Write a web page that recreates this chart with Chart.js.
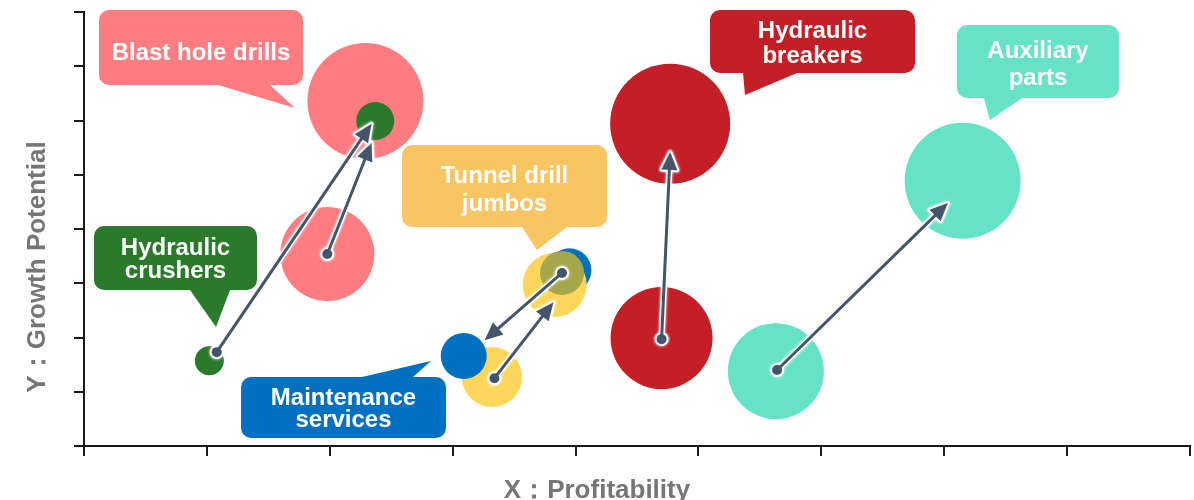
<!DOCTYPE html>
<html>
<head>
<meta charset="utf-8">
<script src="https://cdn.jsdelivr.net/npm/chart.js@4.4.1/dist/chart.umd.min.js"></script>
<style>
  html, body { margin: 0; padding: 0; background: #fff; }
  #wrap { width: 1194px; height: 500px; position: relative; }
</style>
</head>
<body>
<div id="wrap"><canvas id="c"></canvas></div>
<script>
// Business lines: previous and current position (profitability x, growth y), bubble radius in px
const categories = ['Blast hole drills', 'Hydraulic crushers', 'Tunnel drill jumbos',
                    'Maintenance services', 'Hydraulic breakers', 'Auxiliary parts'];
const prevX = [1.98, 1.02, 3.32, 3.95, 4.70, 5.63];
const prevY = [3.54, 1.57, 1.27, 3.24, 1.99, 1.38];
const prevR = [47, 14.5, 30, 22, 51, 48];
const currX = [2.29, 2.37, 3.83, 3.09, 4.77, 7.15];
const currY = [6.36, 5.99, 2.97, 1.66, 5.94, 4.89];
const currR = [58, 19, 32, 23, 60, 58];

// Overlap marker where the maintenance bubble sits under the jumbos bubble
const overlapX = [3.89];
const overlapY = [3.19];
const overlapR = [22];

// Movement arrows (start dot -> arrow head), in axis units
const arrowFromX = [1.98, 1.08, 3.34, 3.89, 4.70, 5.64];
const arrowFromY = [3.54, 1.73, 1.25, 3.19, 1.97, 1.40];
const arrowToX   = [2.34, 2.34, 3.82, 3.26, 4.77, 7.03];
const arrowToY   = [5.59, 5.94, 2.65, 1.95, 5.42, 4.48];

// Axis ranges
const xTicks = [0, 1, 2, 3, 4, 5, 6, 7, 8, 9];
const yTicks = [0, 1, 2, 3, 4, 5, 6, 7, 8];
const xTitle = 'X：Profitability';
const yTitle = 'Y：Growth Potential';

// Styling
const bubbleColors  = ['#FF7C80', '#2B7A2B', '#FFD65A', '#0070C0', '#C41E26', '#66E2C6'];
const calloutColors = ['#FF7C80', '#2B7A2B', '#F8C562', '#0070C0', '#C41E26', '#66E2C6'];
const overlapColor = '#A6A64A';
const arrowColor = '#44546A';
const labelFont = 'bold 24px "Liberation Sans", Arial, sans-serif';
const titleFont = 'bold 26px "Liberation Sans", Arial, sans-serif';

// Callout boxes (px, relative to the plot area's top-left corner);
// textY is the first line's baseline, lh the line spacing
const callouts = [
  { box: [15, -2, 204, 75],  edge: 'bottom', base: [134, 186], tip: [211, 96],  textY: 48,  lh: 0,  lines: ['Blast hole drills'] },
  { box: [10, 214, 163, 64], edge: 'bottom', base: [106, 146], tip: [132, 315], textY: 243, lh: 23, lines: ['Hydraulic', 'crushers'] },
  { box: [318, 133, 205, 82], edge: 'bottom', base: [438, 483], tip: [453, 238], textY: 171, lh: 28, lines: ['Tunnel drill', 'jumbos'] },
  { box: [157, 365, 205, 61], edge: 'top',    base: [278, 329], tip: [347, 349], textY: 393, lh: 22, lines: ['Maintenance', 'services'] },
  { box: [626, -2, 205, 63],  edge: 'bottom', base: [659, 713], tip: [661, 83],  textY: 26,  lh: 25, lines: ['Hydraulic', 'breakers'] },
  { box: [873, 13, 162, 73],  edge: 'bottom', base: [900, 938], tip: [906, 108], textY: 46,  lh: 27, lines: ['Auxiliary', 'parts'] }
];

// Stacking of bubbles from bottom to top
const layers = [
  ['prev', 0], ['curr', 0], ['prev', 1], ['curr', 1],
  ['prev', 2], ['curr', 3], ['prev', 3], ['curr', 2], ['overlap', 0],
  ['prev', 4], ['curr', 4], ['prev', 5], ['curr', 5]
];

const datasets = layers.map(([kind, i], k) => {
  let pt, color, label;
  if (kind === 'overlap') {
    pt = { x: overlapX[i], y: overlapY[i], r: overlapR[i] };
    color = overlapColor;
    label = categories[3] + ' (overlap)';
  } else {
    const X = kind === 'prev' ? prevX : currX;
    const Y = kind === 'prev' ? prevY : currY;
    const R = kind === 'prev' ? prevR : currR;
    pt = { x: X[i], y: Y[i], r: R[i] };
    color = bubbleColors[i];
    label = categories[i] + (kind === 'prev' ? ' (previous)' : ' (current)');
  }
  return {
    label,
    data: [pt],
    backgroundColor: color,
    borderWidth: 0,
    hoverBorderWidth: 0,
    order: layers.length - k
  };
});

function drawArrow(ctx, x1, y1, x2, y2) {
  const ang = Math.atan2(y2 - y1, x2 - x1);
  const headL = 18, headW = 8;
  const bx = x2 - headL * Math.cos(ang), by = y2 - headL * Math.sin(ang);
  const px = -Math.sin(ang) * headW, py = Math.cos(ang) * headW;
  const head = () => {
    ctx.beginPath();
    ctx.moveTo(x2, y2);
    ctx.lineTo(bx + px, by + py);
    ctx.lineTo(bx - px, by - py);
    ctx.closePath();
  };
  ctx.save();
  ctx.lineJoin = 'round';
  ctx.lineCap = 'round';
  // white halo
  ctx.shadowColor = 'rgba(255,255,255,1)';
  ctx.shadowBlur = 3;
  ctx.strokeStyle = 'rgba(255,255,255,0.95)';
  ctx.fillStyle = 'rgba(255,255,255,0.95)';
  ctx.lineWidth = 6;
  ctx.beginPath(); ctx.moveTo(x1, y1); ctx.lineTo(bx, by); ctx.stroke();
  head(); ctx.lineWidth = 4; ctx.stroke();
  ctx.beginPath(); ctx.arc(x1, y1, 7, 0, Math.PI * 2); ctx.fill();
  // arrow body
  ctx.shadowBlur = 0;
  ctx.shadowColor = 'transparent';
  ctx.strokeStyle = arrowColor;
  ctx.fillStyle = arrowColor;
  ctx.lineWidth = 3;
  ctx.lineCap = 'butt';
  ctx.beginPath(); ctx.moveTo(x1, y1); ctx.lineTo(bx + Math.cos(ang), by + Math.sin(ang)); ctx.stroke();
  head(); ctx.fill();
  ctx.beginPath(); ctx.arc(x1, y1, 5, 0, Math.PI * 2); ctx.fill();
  ctx.restore();
}

function drawCallout(ctx, area, c, color) {
  const ox = area.left, oy = area.top;
  const L = ox + c.box[0], T = oy + c.box[1], R = L + c.box[2], B = T + c.box[3];
  const r = 10;
  const tx = ox + c.tip[0], ty = oy + c.tip[1];
  const b0 = ox + c.base[0], b1 = ox + c.base[1];
  ctx.save();
  ctx.fillStyle = color;
  ctx.beginPath();
  ctx.moveTo(L + r, T);
  if (c.edge === 'top') { ctx.lineTo(b0, T); ctx.lineTo(tx, ty); ctx.lineTo(b1, T); }
  ctx.lineTo(R - r, T);
  ctx.arcTo(R, T, R, T + r, r);
  ctx.lineTo(R, B - r);
  ctx.arcTo(R, B, R - r, B, r);
  if (c.edge === 'bottom') { ctx.lineTo(b1, B); ctx.lineTo(tx, ty); ctx.lineTo(b0, B); }
  ctx.lineTo(L + r, B);
  ctx.arcTo(L, B, L, B - r, r);
  ctx.lineTo(L, T + r);
  ctx.arcTo(L, T, L + r, T, r);
  ctx.closePath();
  ctx.fill();
  ctx.fillStyle = '#ffffff';
  ctx.font = labelFont;
  ctx.textAlign = 'center';
  ctx.textBaseline = 'alphabetic';
  const cx = (L + R) / 2;
  c.lines.forEach((s, k) => ctx.fillText(s, cx, oy + c.textY + k * c.lh));
  ctx.restore();
}

const overlayPlugin = {
  id: 'overlay',
  afterDatasetsDraw(chart) {
    const ctx = chart.ctx, xs = chart.scales.x, ys = chart.scales.y;
    for (let i = 0; i < categories.length; i++) {
      drawArrow(ctx,
        xs.getPixelForValue(arrowFromX[i]), ys.getPixelForValue(arrowFromY[i]),
        xs.getPixelForValue(arrowToX[i]), ys.getPixelForValue(arrowToY[i]));
    }
    callouts.forEach((c, i) => drawCallout(ctx, chart.chartArea, c, calloutColors[i]));
  },
  afterDraw(chart) {
    const ctx = chart.ctx;
    ctx.save();
    ctx.fillStyle = '#767676';
    ctx.font = titleFont;
    ctx.textAlign = 'center';
    ctx.textBaseline = 'alphabetic';
    ctx.fillText(xTitle, chart.width / 2, 498);
    ctx.translate(45, 267);
    ctx.rotate(-Math.PI / 2);
    ctx.fillText(yTitle, 0, 0);
    ctx.restore();
  }
};

const axisCommon = {
  grid: { drawOnChartArea: false, drawTicks: true, tickLength: 10, color: '#1a1a1a', lineWidth: 2 },
  border: { display: true, color: '#1a1a1a', width: 2 },
  ticks: { display: false }
};

new Chart(document.getElementById('c'), {
  type: 'bubble',
  data: { datasets },
  options: {
    responsive: true,
    maintainAspectRatio: false,
    animation: false,
    events: [],
    layout: { autoPadding: false, padding: { left: 74, right: 4, top: 12, bottom: 44 } },
    plugins: { legend: { display: false }, tooltip: { enabled: false } },
    scales: {
      x: Object.assign({}, axisCommon, {
        type: 'linear', min: xTicks[0], max: xTicks[xTicks.length - 1],
        afterBuildTicks: s => { s.ticks = xTicks.map(v => ({ value: v })); }
      }),
      y: Object.assign({}, axisCommon, {
        type: 'linear', min: yTicks[0], max: yTicks[yTicks.length - 1],
        afterBuildTicks: s => { s.ticks = yTicks.map(v => ({ value: v })); }
      })
    }
  },
  plugins: [overlayPlugin]
});
</script>
</body>
</html>
